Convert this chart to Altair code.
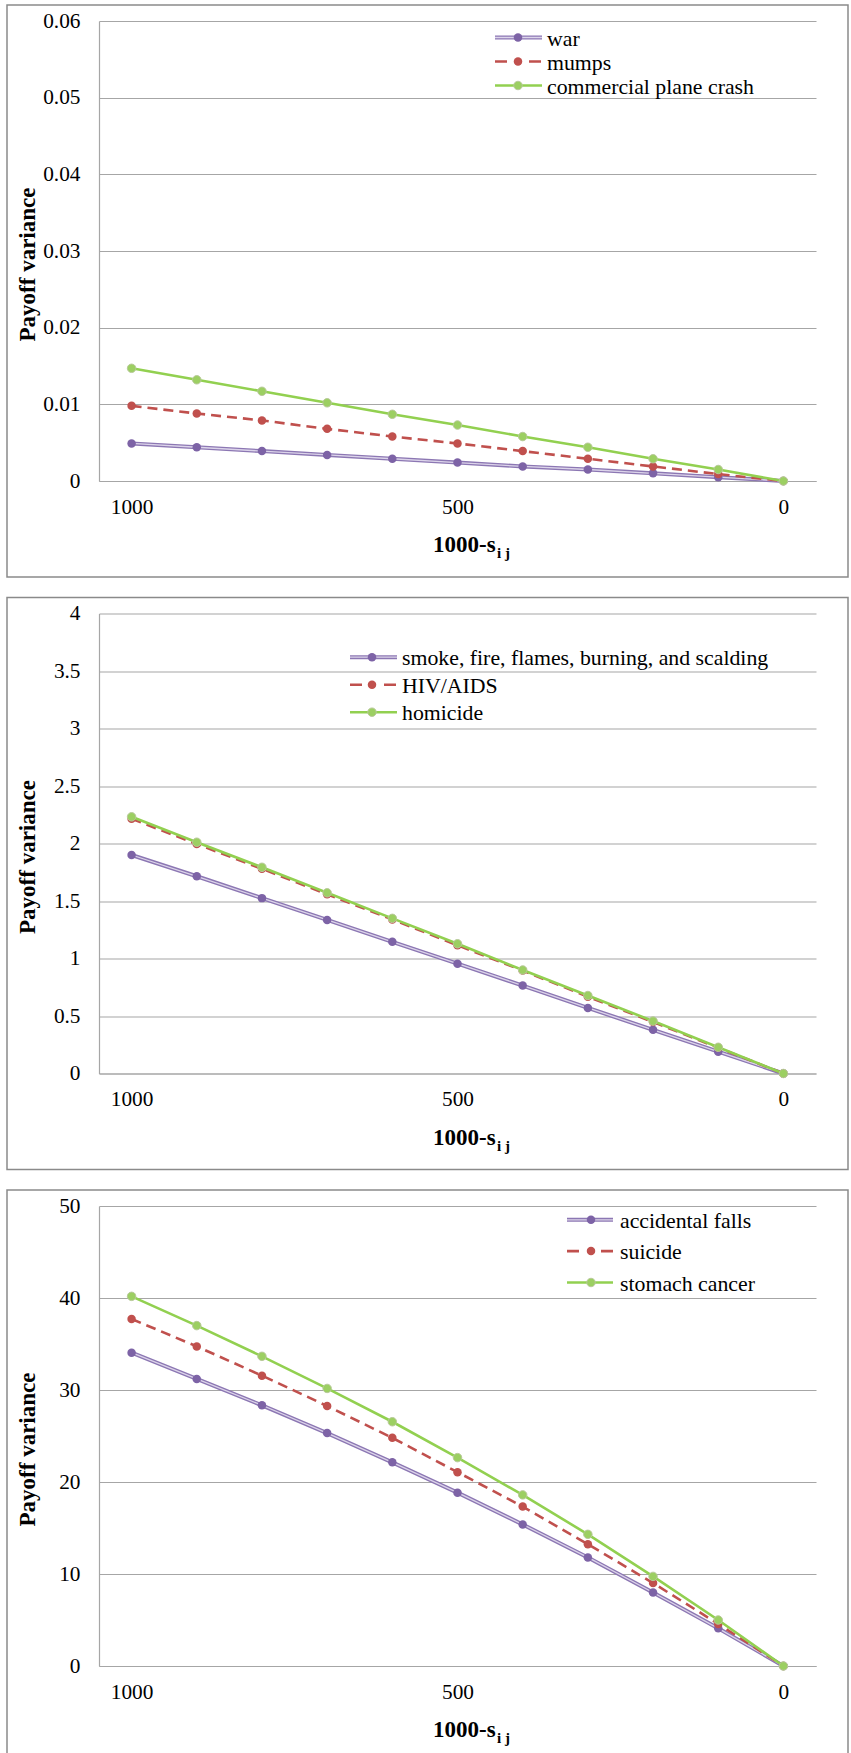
import altair as alt
import pandas as pd

# ---------------- data ----------------
x_vals = [1000, 900, 800, 700, 600, 500, 400, 300, 200, 100, 0]
x_ticks = [1000, 500, 0]

p1_names = ["war", "mumps", "commercial plane crash"]
p1_war = [0.0049, 0.0044, 0.0039, 0.0034, 0.0029, 0.0024, 0.0019, 0.0015, 0.0010, 0.0005, 0.0]
p1_mumps = [0.0098, 0.0088, 0.0079, 0.0068, 0.0058, 0.0049, 0.0039, 0.0029, 0.0019, 0.0009, 0.0]
p1_plane = [0.0147, 0.0132, 0.0117, 0.0102, 0.0087, 0.0073, 0.0058, 0.0044, 0.0029, 0.0015, 0.0]
p1_ticks = [0, 0.01, 0.02, 0.03, 0.04, 0.05, 0.06]

p2_names = ["smoke, fire, flames, burning, and scalding", "HIV/AIDS", "homicide"]
p2_smoke = [1.90, 1.715, 1.525, 1.335, 1.145, 0.955, 0.765, 0.57, 0.38, 0.19, 0.0]
p2_hiv = [2.215, 1.995, 1.78, 1.558, 1.34, 1.115, 0.895, 0.668, 0.448, 0.224, 0.0]
p2_hom = [2.232, 2.011, 1.793, 1.571, 1.349, 1.128, 0.90, 0.678, 0.456, 0.228, 0.0]
p2_ticks = [0, 0.5, 1, 1.5, 2, 2.5, 3, 3.5, 4]

p3_names = ["accidental falls", "suicide", "stomach cancer"]
p3_falls = [34.06, 31.2, 28.34, 25.32, 22.14, 18.84, 15.38, 11.8, 7.99, 4.09, 0.0]
p3_suic = [37.72, 34.74, 31.56, 28.26, 24.8, 21.07, 17.33, 13.24, 9.02, 4.57, 0.0]
p3_stom = [40.18, 37.0, 33.66, 30.17, 26.55, 22.65, 18.6, 14.31, 9.74, 5.0, 0.0]
p3_ticks = [0, 10, 20, 30, 40, 50]

x_title = "1000-s"
x_title_sub = "i j"
y_title = "Payoff variance"

# ---------------- style ----------------
FONT = "'Liberation Serif', 'Times New Roman', Times, serif"
FS = 21.3
FS_LEG = 21.8
FS_TITLE = 23
W, H = 717, 460
GRID = "#a6a6a6"
PURPLE_OUT = "#8c77b3"
PURPLE_IN = "#dcd4ea"
PURPLE_MK = "#7d63a6"
RED = "#c0504d"
GREEN = "#92d050"
GREEN_MK = "#9ccf62"


def panel(names, series, ticks, leg_y, leg_x):
    x_enc = alt.X(
        "x:Q",
        scale=alt.Scale(domain=[-50, 1050], reverse=True, nice=False, zero=False),
        axis=alt.Axis(
            values=x_ticks, title=None, grid=False, ticks=False, domain=True,
            domainColor=GRID, domainWidth=1.2, labelFont=FONT, labelFontSize=FS,
            labelColor="black", labelPadding=15, labelFlush=False, labelOverlap=False,
            format="d",
        ),
    )
    y_enc = alt.Y(
        "y:Q",
        scale=alt.Scale(domain=[ticks[0], ticks[-1]], nice=False, zero=False),
        axis=alt.Axis(
            values=ticks, grid=True, gridColor=GRID, gridWidth=1.2, ticks=False,
            domain=True, domainColor=GRID, domainWidth=1.2,
            labelFont=FONT, labelFontSize=FS, labelColor="black", labelPadding=19,
            labelExpr="format(datum.value, '~g')",
            title=y_title, titleFont=FONT, titleFontSize=FS_TITLE, titleFontWeight="bold",
            titleColor="black", titleAngle=-90, titleX=-72, titleY=243,
            titleBaseline="middle", titleAlign="center",
        ),
    )

    layers = []
    border = alt.Chart(pd.DataFrame({"k": [0]})).mark_rect(
        fillOpacity=0, stroke="#8a8a8a", strokeWidth=1.5
    ).encode(x=alt.value(-92), x2=alt.value(749), y=alt.value(-16), y2=alt.value(556))
    layers.append(border)

    for i, vals in enumerate(series):
        df = pd.DataFrame({"x": x_vals, "y": vals})
        base = alt.Chart(df).encode(x=x_enc, y=y_enc)
        if i == 0:
            layers.append(base.mark_line(color=PURPLE_OUT, strokeWidth=4))
            layers.append(base.mark_line(color=PURPLE_IN, strokeWidth=1.3))
            layers.append(base.mark_circle(size=72, color=PURPLE_MK, opacity=1))
        elif i == 1:
            layers.append(base.mark_line(color=RED, strokeWidth=2.6, strokeDash=[10, 6]))
            layers.append(base.mark_circle(size=72, color=RED, opacity=1))
        else:
            layers.append(base.mark_line(color=GREEN, strokeWidth=2.6))
            layers.append(base.mark_circle(size=72, color=GREEN_MK, opacity=1,
                                           stroke="#b8c99a", strokeWidth=1))

    lx0, lx1, lmk, ltx = leg_x
    for i, name in enumerate(names):
        ldf = pd.DataFrame({"name": [name]})
        lc = alt.Chart(ldf)
        yv = alt.value(leg_y[i])
        if i == 0:
            layers.append(lc.mark_rule(color=PURPLE_OUT, strokeWidth=4).encode(
                x=alt.value(lx0), x2=alt.value(lx1), y=yv))
            layers.append(lc.mark_rule(color=PURPLE_IN, strokeWidth=1.3).encode(
                x=alt.value(lx0), x2=alt.value(lx1), y=yv))
            layers.append(lc.mark_circle(size=72, color=PURPLE_MK, opacity=1).encode(
                x=alt.value(lmk), y=yv))
        elif i == 1:
            layers.append(lc.mark_rule(color=RED, strokeWidth=2.6, strokeDash=[12, 22]).encode(
                x=alt.value(lx0), x2=alt.value(lx1), y=yv))
            layers.append(lc.mark_circle(size=72, color=RED, opacity=1).encode(
                x=alt.value(lmk), y=yv))
        else:
            layers.append(lc.mark_rule(color=GREEN, strokeWidth=2.6).encode(
                x=alt.value(lx0), x2=alt.value(lx1), y=yv))
            layers.append(lc.mark_circle(size=72, color=GREEN_MK, opacity=1,
                                         stroke="#b8c99a", strokeWidth=1).encode(
                x=alt.value(lmk), y=yv))
        layers.append(lc.mark_text(font=FONT, fontSize=FS_LEG, color="black", align="left",
                                   baseline="middle").encode(
            x=alt.value(ltx), y=alt.value(leg_y[i] + 1), text=alt.Text("name:N")))

    t1 = alt.Chart(pd.DataFrame({"t": [x_title]})).mark_text(
        font=FONT, fontSize=FS_TITLE, fontWeight="bold", color="black",
        align="left", baseline="alphabetic").encode(
        x=alt.value(334), y=alt.value(531), text=alt.Text("t:N"))
    t2 = alt.Chart(pd.DataFrame({"t": [x_title_sub]})).mark_text(
        font=FONT, fontSize=15, fontWeight="bold", color="black",
        align="left", baseline="alphabetic").encode(
        x=alt.value(398), y=alt.value(537), text=alt.Text("t:N"))
    layers += [t1, t2]

    return alt.layer(*layers).properties(width=W, height=H)


c1 = panel(p1_names, [p1_war, p1_mumps, p1_plane], p1_ticks,
           [16.5, 40.5, 64.5], (396, 443, 419, 448))
c2 = panel(p2_names, [p2_smoke, p2_hiv, p2_hom], p2_ticks,
           [43.7, 71.2, 98.7], (251, 298, 273, 303))
c3 = panel(p3_names, [p3_falls, p3_suic, p3_stom], p3_ticks,
           [13.8, 45.1, 76.5], (468, 514, 492, 521))

chart = alt.vconcat(c1, c2, c3, spacing=18.5).properties(
    padding={"left": 6, "top": 4, "right": 0, "bottom": 0},
    background="white",
).configure_view(strokeWidth=0)

chart.save("out.html", embed_options={"renderer": "svg", "actions": False})
